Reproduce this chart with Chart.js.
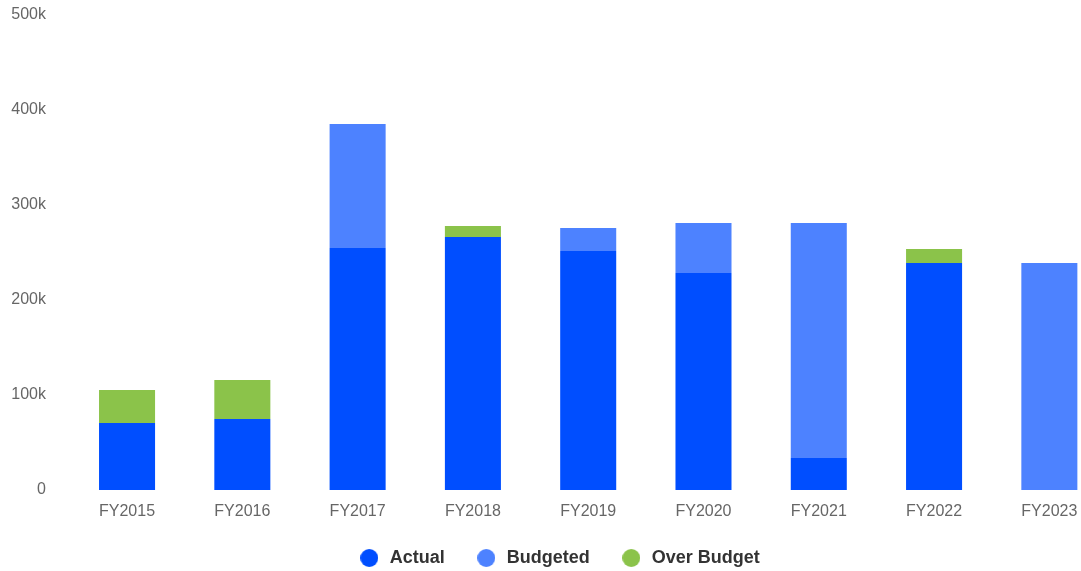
<!DOCTYPE html>
<html>
<head>
<meta charset="utf-8">
<script src="https://cdn.jsdelivr.net/npm/chart.js@4"></script>
<style>
  html, body { margin: 0; padding: 0; background: #fff; overflow: hidden; width: 1081px; height: 571px; }
  #wrap { width: 1081px; height: 571px; overflow: hidden; position: relative; }
  #c { display: block; }
</style>
</head>
<body>
<div id="wrap"><canvas id="c" width="1110" height="577"></canvas></div>
<script>
const categories = ['FY2015', 'FY2016', 'FY2017', 'FY2018', 'FY2019', 'FY2020', 'FY2021', 'FY2022', 'FY2023'];
const actual     = [70500, 74700, 254700, 266300, 251600, 228400, 33700, 239000, 0];
const budgeted   = [0, 0, 130500, 0, 24200, 52600, 247400, 0, 239000];
const overBudget = [34700, 41000, 0, 11600, 0, 0, 0, 14700, 0];
const yTicks = [0, 100000, 200000, 300000, 400000, 500000];
const yTickLabels = ['0', '100k', '200k', '300k', '400k', '500k'];
const seriesNames = ['Actual', 'Budgeted', 'Over Budget'];
const seriesColors = ['#004EFF', '#4D82FF', '#8BC34A'];

Chart.defaults.font.family = "'Liberation Sans', Arial, Helvetica, sans-serif";

function makeDot(color) {
  const c = document.createElement('canvas');
  c.width = 18; c.height = 18;
  const g = c.getContext('2d');
  g.fillStyle = color;
  g.beginPath();
  g.arc(9, 9, 9, 0, Math.PI * 2);
  g.fill();
  return c;
}

new Chart(document.getElementById('c'), {
  type: 'bar',
  data: {
    labels: categories,
    datasets: [
      { label: seriesNames[0], data: actual, backgroundColor: seriesColors[0], pointStyle: makeDot(seriesColors[0]), stack: 's' },
      { label: seriesNames[1], data: budgeted, backgroundColor: seriesColors[1], pointStyle: makeDot(seriesColors[1]), stack: 's' },
      { label: seriesNames[2], data: overBudget, backgroundColor: seriesColors[2], pointStyle: makeDot(seriesColors[2]), stack: 's' }
    ]
  },
  options: {
    responsive: false,
    animation: false,
    events: [],
    categoryPercentage: 0.54,
    barPercentage: 0.9,
    layout: { padding: { top: 15, right: 3, left: 10.6, bottom: 0 } },
    scales: {
      x: {
        stacked: true,
        grid: { display: false, drawTicks: false },
        border: { display: false },
        ticks: { color: '#666', font: { size: 16 }, padding: 12.4 },
        afterFit: s => { s.height = 29; }
      },
      y: {
        stacked: true,
        min: 0,
        max: 500000,
        grid: { display: false, drawTicks: false },
        border: { display: false },
        afterBuildTicks: s => { s.ticks = yTicks.map(v => ({ value: v })); },
        ticks: {
          color: '#666',
          font: { size: 16 },
          padding: 23.4,
          callback: v => yTickLabels[yTicks.indexOf(v)]
        },
        afterFit: s => { s.width = 58.8; s.paddingTop = 15; }
      }
    },
    plugins: {
      tooltip: { enabled: false },
      legend: {
        position: 'bottom',
        labels: {
          usePointStyle: true,
          boxHeight: 18,
          pointStyleWidth: 23,
          padding: 30,
          color: '#333',
          font: { size: 18, weight: 'bold' }
        }
      }
    }
  }
});
</script>
</body>
</html>
